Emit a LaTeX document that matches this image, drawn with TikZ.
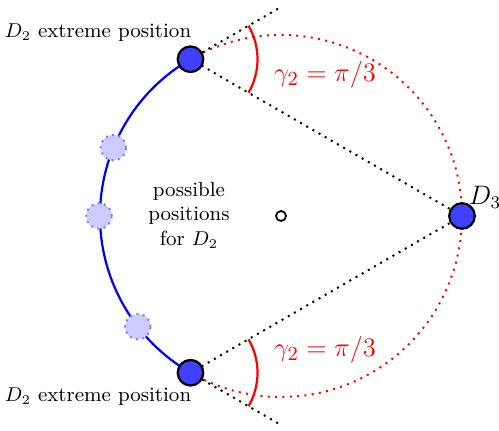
\documentclass[tikz,border=0pt]{standalone}
\usetikzlibrary{calc}
\begin{document}
\begin{tikzpicture}[x=0.45pt,y=0.45pt,
  disc/.style={circle,draw=black,line width=1pt,fill=blue!75,minimum size=11.5pt,inner sep=0pt},
  ghost/.style={circle,draw=blue!50,dotted,line width=0.9pt,fill=blue!20,minimum size=11.5pt,inner sep=0pt},
  blk/.style={black,line width=0.9pt,dash pattern=on 0.9pt off 2.3pt},
  rdot/.style={red,line width=0.9pt,dash pattern=on 0.9pt off 2.4pt},
  glbl/.style={text=red,inner sep=0pt,font=\fontsize{12.4}{15}\selectfont},
  lbl/.style={font=\fontsize{9.2}{11.2}\selectfont,inner sep=0pt}]
\useasboundingbox (0,0) rectangle (499,431);
\coordinate (O) at (281,215);
\coordinate (A) at ($(O)+(120:181)$);
\coordinate (B) at ($(O)+(240:181)$);
\coordinate (C) at ($(O)+(0:181)$);
% blue path of possible positions
\draw[blue,line width=1pt] (A) arc[start angle=120,end angle=240,radius=181];
% red dotted circle part
\draw[rdot] (A) arc[start angle=120,end angle=-120,radius=181];
% black dotted lines
\coordinate (Ae) at ($(A)+(30:105)$);
\coordinate (Be) at ($(B)+(-30:105)$);
\draw[blk] (C) -- (A) -- (Ae);
\draw[blk] (C) -- (B) -- (Be);
% angle arcs
\draw[red,line width=1pt] ($(A)+(-30:67)$) arc[start angle=-30,end angle=30,radius=67];
\draw[red,line width=1pt] ($(B)+(-30:67)$) arc[start angle=-30,end angle=30,radius=67];
\node[glbl] (ga) at (325,356) {$\gamma_2=\pi/3$};
\node[glbl] (gb) at (325,81) {$\gamma_2=\pi/3$};
% ghost positions
\node[ghost] (g1) at ($(O)+(157.8:181)$) {};
\node[ghost] (g2) at ($(O)+(180:182)$) {};
\node[ghost] (g3) at ($(O)+(217.7:181)$) {};
% discs
\node[disc] (d2a) at (A) {};
\node[disc] (d2b) at (B) {};
\node[disc] (d3) at (C) {};
\node[font=\large,inner sep=0pt] (l3) at (485,234) {$D_3$};
% centre
\node[circle,draw=black,line width=0.8pt,fill=white,minimum size=4.5pt,inner sep=0pt] (o) at (O) {};
% labels
\node[lbl] (la) at (98,398) {$D_2$ extreme position};
\node[lbl] (lb) at (98,34) {$D_2$ extreme position};
\node[lbl,align=center] (lp) at (189,216) {possible\\positions\\for $D_2$};
\end{tikzpicture}
\end{document}
